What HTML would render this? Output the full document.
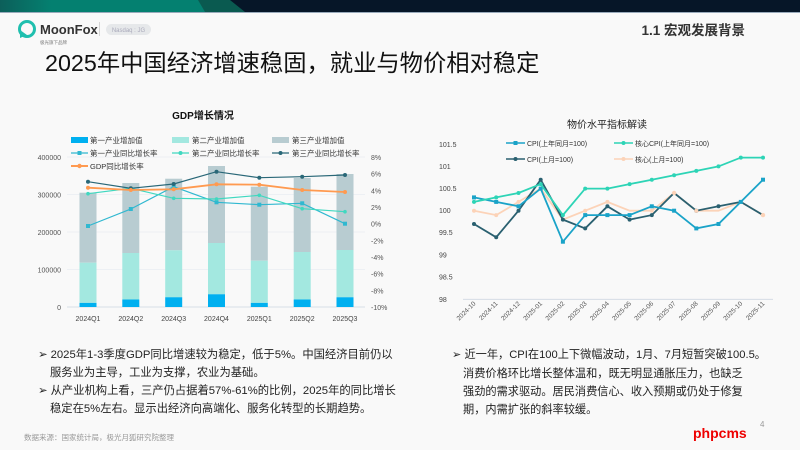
<!DOCTYPE html>
<html><head><meta charset="utf-8"><style>
html,body{margin:0;padding:0;background:#f9f9f9;}
svg{display:block;font-family:"Liberation Sans","Noto Sans CJK SC",sans-serif;}
</style></head><body>
<svg width="800" height="450" viewBox="0 0 800 450" xmlns="http://www.w3.org/2000/svg">
<defs>
<linearGradient id="tg" x1="0" x2="1" y1="0" y2="0">
<stop offset="0" stop-color="#0c5f5a"/><stop offset="0.25" stop-color="#048070"/><stop offset="1" stop-color="#048070"/>
</linearGradient>
</defs>
<rect width="800" height="450" fill="#f9f9f9"/>
<rect width="800" height="12" fill="#061628"/>
<polygon points="0,0 230,0 245,12 0,12" fill="#0a5a50"/>
<polygon points="0,0 198,0 205,12 0,12" fill="url(#tg)"/>
<rect y="12" width="800" height="1" fill="#9ab"/>
<!-- logo -->
<circle cx="27" cy="29" r="7.5" fill="none" stroke="#1fbfae" stroke-width="3"/>
<path d="M20 30 L20 38 L27 35 Z" fill="#1fbfae"/>
<text x="40" y="34" font-size="13" font-weight="bold" fill="#333">MoonFox</text>
<text x="40" y="44" font-size="4.5" fill="#777">极光旗下品牌</text>
<rect x="99" y="22" width="0.8" height="14" fill="#ccc"/>
<rect x="106" y="24" width="45" height="11" rx="5.5" fill="#e6e8ea"/>
<text x="128.5" y="32" font-size="6" fill="#aab" text-anchor="middle">Nasdaq : JG</text>
<text x="745" y="35" font-size="13.5" font-weight="bold" fill="#333" text-anchor="end">1.1  宏观发展背景</text>
<text x="45" y="71" font-size="23.3" fill="#111">2025年中国经济增速稳固，就业与物价相对稳定</text>

<!-- LEFT CHART -->
<text x="203" y="119" font-size="10" font-weight="bold" fill="#111" text-anchor="middle">GDP增长情况</text>
<g font-size="7.5" fill="#333">
<rect x="71" y="137" width="17" height="6" fill="#00b0f0"/><text x="90" y="143">第一产业增加值</text>
<rect x="172" y="137" width="17" height="6" fill="#a3e8e0"/><text x="192" y="143">第二产业增加值</text>
<rect x="272" y="137" width="17" height="6" fill="#b8ccd1"/><text x="292" y="143">第三产业增加值</text>
<line x1="71" y1="153" x2="88" y2="153" stroke="#30b8d0" stroke-width="1.3"/><rect x="77.5" y="151" width="4" height="4" fill="#30b8d0"/><text x="90" y="156">第一产业同比增长率</text>
<line x1="172" y1="153" x2="189" y2="153" stroke="#40d8c0" stroke-width="1.3"/><circle cx="180.5" cy="153" r="2" fill="#40d8c0"/><text x="192" y="156">第二产业同比增长率</text>
<line x1="272" y1="153" x2="289" y2="153" stroke="#2a6878" stroke-width="1.3"/><circle cx="280.5" cy="153" r="2" fill="#2a6878"/><text x="292" y="156">第三产业同比增长率</text>
<line x1="71" y1="166" x2="88" y2="166" stroke="#ff9a50" stroke-width="2"/><circle cx="79.5" cy="166" r="2.2" fill="#ff9a50"/><text x="90" y="169">GDP同比增长率</text>
</g>
<g stroke="#e8ecf2" stroke-width="0.8">
<line x1="67" y1="157" x2="365" y2="157"/><line x1="67" y1="194.5" x2="365" y2="194.5"/><line x1="67" y1="232" x2="365" y2="232"/><line x1="67" y1="269.5" x2="365" y2="269.5"/>
</g>
<line x1="67" y1="307" x2="365" y2="307" stroke="#ccd6e0" stroke-width="0.8"/>
<g font-size="7" fill="#555" text-anchor="end">
<text x="61" y="160">400000</text><text x="61" y="197.5">300000</text><text x="61" y="235">200000</text><text x="61" y="272.5">100000</text><text x="61" y="310">0</text>
</g>
<g font-size="7" fill="#555">
<text x="371" y="160">8%</text><text x="371" y="176.7">6%</text><text x="371" y="193.3">4%</text><text x="371" y="210">2%</text><text x="371" y="226.7">0%</text><text x="371" y="243.3">-2%</text><text x="371" y="260">-4%</text><text x="371" y="276.7">-6%</text><text x="371" y="293.3">-8%</text><text x="371" y="310">-10%</text>
</g>
<g>
<rect x="79.5" y="192.7" width="17" height="70" fill="#b8ccd1"/><rect x="79.5" y="262.7" width="17" height="40.2" fill="#a3e8e0"/><rect x="79.5" y="302.9" width="17" height="4.1" fill="#00b0f0"/>
<rect x="122.3" y="183" width="17" height="70" fill="#b8ccd1"/><rect x="122.3" y="253" width="17" height="46.5" fill="#a3e8e0"/><rect x="122.3" y="299.5" width="17" height="7.5" fill="#00b0f0"/>
<rect x="165.2" y="178.7" width="17" height="71.6" fill="#b8ccd1"/><rect x="165.2" y="250.3" width="17" height="47" fill="#a3e8e0"/><rect x="165.2" y="297.25" width="17" height="9.75" fill="#00b0f0"/>
<rect x="208" y="166" width="17" height="77" fill="#b8ccd1"/><rect x="208" y="243" width="17" height="51.25" fill="#a3e8e0"/><rect x="208" y="294.25" width="17" height="12.75" fill="#00b0f0"/>
<rect x="250.8" y="186.7" width="17" height="74" fill="#b8ccd1"/><rect x="250.8" y="260.7" width="17" height="42.2" fill="#a3e8e0"/><rect x="250.8" y="302.9" width="17" height="4.1" fill="#00b0f0"/>
<rect x="293.7" y="178" width="17" height="74" fill="#b8ccd1"/><rect x="293.7" y="252" width="17" height="47.5" fill="#a3e8e0"/><rect x="293.7" y="299.5" width="17" height="7.5" fill="#00b0f0"/>
<rect x="336.5" y="174" width="17" height="76" fill="#b8ccd1"/><rect x="336.5" y="250" width="17" height="47.25" fill="#a3e8e0"/><rect x="336.5" y="297.25" width="17" height="9.75" fill="#00b0f0"/>
</g>
<g font-size="7" fill="#444" text-anchor="middle">
<text x="88" y="321">2024Q1</text><text x="130.8" y="321">2024Q2</text><text x="173.7" y="321">2024Q3</text><text x="216.5" y="321">2024Q4</text><text x="259.3" y="321">2025Q1</text><text x="302.2" y="321">2025Q2</text><text x="345" y="321">2025Q3</text>
</g>
<polyline fill="none" stroke="#30b8d0" stroke-width="1.2" points="88,226 130.8,209 173.7,186.7 216.5,202.3 259.3,204.7 302.2,203.3 345,223.7"/>
<g fill="#30b8d0"><rect x="86" y="224" width="4" height="4"/><rect x="128.8" y="207" width="4" height="4"/><rect x="171.7" y="184.7" width="4" height="4"/><rect x="214.5" y="200.3" width="4" height="4"/><rect x="257.3" y="202.7" width="4" height="4"/><rect x="300.2" y="201.3" width="4" height="4"/><rect x="343" y="221.7" width="4" height="4"/></g>
<polyline fill="none" stroke="#40d8c0" stroke-width="1.2" points="88,193.7 130.8,188.3 173.7,198.3 216.5,199 259.3,195.3 302.2,208.7 345,211.7"/>
<g fill="#40d8c0"><circle cx="88" cy="193.7" r="1.8"/><circle cx="130.8" cy="188.3" r="1.8"/><circle cx="173.7" cy="198.3" r="1.8"/><circle cx="216.5" cy="199" r="1.8"/><circle cx="259.3" cy="195.3" r="1.8"/><circle cx="302.2" cy="208.7" r="1.8"/><circle cx="345" cy="211.7" r="1.8"/></g>
<polyline fill="none" stroke="#2a6878" stroke-width="1.2" points="88,181.7 130.8,188.3 173.7,184 216.5,171.7 259.3,177.7 302.2,176.7 345,175"/>
<g fill="#2a6878"><circle cx="88" cy="181.7" r="2"/><circle cx="130.8" cy="188.3" r="2"/><circle cx="173.7" cy="184" r="2"/><circle cx="216.5" cy="171.7" r="2"/><circle cx="259.3" cy="177.7" r="2"/><circle cx="302.2" cy="176.7" r="2"/><circle cx="345" cy="175" r="2"/></g>
<polyline fill="none" stroke="#ff9a50" stroke-width="1.8" points="88,187.7 130.8,190 173.7,189.3 216.5,184.3 259.3,184.7 302.2,190 345,192"/>
<g fill="#ff9a50"><circle cx="88" cy="187.7" r="2"/><circle cx="130.8" cy="190" r="2"/><circle cx="173.7" cy="189.3" r="2"/><circle cx="216.5" cy="184.3" r="2"/><circle cx="259.3" cy="184.7" r="2"/><circle cx="302.2" cy="190" r="2"/><circle cx="345" cy="192" r="2"/></g>

<!-- RIGHT CHART -->
<text x="607" y="128" font-size="10" fill="#222" text-anchor="middle">物价水平指标解读</text>
<g font-size="7" fill="#333">
<line x1="506" y1="143" x2="525" y2="143" stroke="#1aa3c8" stroke-width="1.5"/><rect x="513.5" y="141" width="4" height="4" fill="#1aa3c8"/><text x="527" y="146">CPI(上年同月=100)</text>
<line x1="614" y1="143" x2="633" y2="143" stroke="#2dd4b6" stroke-width="1.5"/><circle cx="623.5" cy="143" r="2" fill="#2dd4b6"/><text x="635" y="146">核心CPI(上年同月=100)</text>
<line x1="506" y1="159" x2="525" y2="159" stroke="#2a6070" stroke-width="1.5"/><circle cx="515.5" cy="159" r="2" fill="#2a6070"/><text x="527" y="162">CPI(上月=100)</text>
<line x1="614" y1="159" x2="633" y2="159" stroke="#fcd3b8" stroke-width="1.5"/><circle cx="623.5" cy="159" r="2" fill="#fcd3b8"/><text x="635" y="162">核心(上月=100)</text>
</g>
<g font-size="7" fill="#444">
<text x="439" y="147">101.5</text><text x="439" y="169">101</text><text x="439" y="191">100.5</text><text x="439" y="213">100</text><text x="439" y="235">99.5</text><text x="439" y="257.5">99</text><text x="439" y="279.5">98.5</text><text x="439" y="302">98</text>
</g>
<line x1="463" y1="299.3" x2="773" y2="299.3" stroke="#cfd8e2" stroke-width="0.8"/>
<g font-size="6.5" fill="#555" text-anchor="end">
<text transform="translate(476,304) rotate(-45)">2024-10</text>
<text transform="translate(498.2,304) rotate(-45)">2024-11</text>
<text transform="translate(520.5,304) rotate(-45)">2024-12</text>
<text transform="translate(542.7,304) rotate(-45)">2025-01</text>
<text transform="translate(564.9,304) rotate(-45)">2025-02</text>
<text transform="translate(587.2,304) rotate(-45)">2025-03</text>
<text transform="translate(609.4,304) rotate(-45)">2025-04</text>
<text transform="translate(631.6,304) rotate(-45)">2025-05</text>
<text transform="translate(653.8,304) rotate(-45)">2025-06</text>
<text transform="translate(676.1,304) rotate(-45)">2025-07</text>
<text transform="translate(698.3,304) rotate(-45)">2025-08</text>
<text transform="translate(720.5,304) rotate(-45)">2025-09</text>
<text transform="translate(742.8,304) rotate(-45)">2025-10</text>
<text transform="translate(765,304) rotate(-45)">2025-11</text>
</g>
<polyline fill="none" stroke="#fcd3b8" stroke-width="1.8" points="474,210.7 496.2,215.1 518.5,201.9 540.7,188.6 562.9,219.6 585.2,210.7 607.4,201.9 629.6,210.7 651.8,210.7 674.1,193 696.3,210.7 718.5,210.7 740.8,201.9 763,215.1"/>
<polyline fill="none" stroke="#2a6070" stroke-width="1.8" points="474,224 496.2,237.3 518.5,210.7 540.7,179.7 562.9,219.6 585.2,228.4 607.4,206.3 629.6,219.6 651.8,215.1 674.1,193 696.3,210.7 718.5,206.3 740.8,201.9 763,215.1"/>
<g fill="#2a6070"><circle cx="474" cy="224" r="2"/><circle cx="496.2" cy="237.3" r="2"/><circle cx="518.5" cy="210.7" r="2"/><circle cx="540.7" cy="179.7" r="2"/><circle cx="562.9" cy="219.6" r="2"/><circle cx="585.2" cy="228.4" r="2"/><circle cx="607.4" cy="206.3" r="2"/><circle cx="629.6" cy="219.6" r="2"/><circle cx="651.8" cy="215.1" r="2"/><circle cx="696.3" cy="210.7" r="2"/><circle cx="718.5" cy="206.3" r="2"/></g>
<g fill="#fcd3b8"><circle cx="474" cy="210.7" r="2"/><circle cx="496.2" cy="215.1" r="2"/><circle cx="518.5" cy="201.9" r="2"/><circle cx="540.7" cy="188.6" r="2"/><circle cx="585.2" cy="210.7" r="2"/><circle cx="607.4" cy="201.9" r="2"/><circle cx="651.8" cy="210.7" r="2"/><circle cx="674.1" cy="193" r="2.2"/><circle cx="696.3" cy="210.7" r="2"/><circle cx="740.8" cy="201.9" r="2"/><circle cx="763" cy="215.1" r="2.2"/></g>
<polyline fill="none" stroke="#1aa3c8" stroke-width="1.8" points="474,197.4 496.2,201.9 518.5,206.3 540.7,188.6 562.9,241.7 585.2,215.1 607.4,215.1 629.6,215.1 651.8,206.3 674.1,210.7 696.3,228.4 718.5,224 740.8,201.9 763,179.7"/>
<g fill="#1aa3c8"><rect x="472" y="195.4" width="4" height="4"/><rect x="494.2" y="199.9" width="4" height="4"/><rect x="516.5" y="204.3" width="4" height="4"/><rect x="538.7" y="186.6" width="4" height="4"/><rect x="560.9" y="239.7" width="4" height="4"/><rect x="583.2" y="213.1" width="4" height="4"/><rect x="605.4" y="213.1" width="4" height="4"/><rect x="627.6" y="213.1" width="4" height="4"/><rect x="649.8" y="204.3" width="4" height="4"/><rect x="672.1" y="208.7" width="4" height="4"/><rect x="694.3" y="226.4" width="4" height="4"/><rect x="716.5" y="222" width="4" height="4"/><rect x="738.8" y="199.9" width="4" height="4"/><rect x="761" y="177.7" width="4" height="4"/></g>
<polyline fill="none" stroke="#2dd4b6" stroke-width="1.8" points="474,201.9 496.2,197.4 518.5,193 540.7,184.1 562.9,215.1 585.2,188.6 607.4,188.6 629.6,184.1 651.8,179.7 674.1,175.3 696.3,170.9 718.5,166.4 740.8,157.6 763,157.6"/>
<g fill="#2dd4b6"><circle cx="474" cy="201.9" r="2"/><circle cx="496.2" cy="197.4" r="2"/><circle cx="518.5" cy="193" r="2"/><circle cx="540.7" cy="184.1" r="2"/><circle cx="562.9" cy="215.1" r="2"/><circle cx="585.2" cy="188.6" r="2"/><circle cx="607.4" cy="188.6" r="2"/><circle cx="629.6" cy="184.1" r="2"/><circle cx="651.8" cy="179.7" r="2"/><circle cx="674.1" cy="175.3" r="2"/><circle cx="696.3" cy="170.9" r="2"/><circle cx="718.5" cy="166.4" r="2"/><circle cx="740.8" cy="157.6" r="2"/><circle cx="763" cy="157.6" r="2"/></g>

<!-- bottom text -->
<g font-size="11.3" fill="#222">
<text x="38" y="358">➢ 2025年1-3季度GDP同比增速较为稳定，低于5%。中国经济目前仍以</text>
<text x="50" y="376">服务业为主导，工业为支撑，农业为基础。</text>
<text x="38" y="394">➢ 从产业机构上看，三产仍占据着57%-61%的比例，2025年的同比增长</text>
<text x="50" y="412">稳定在5%左右。显示出经济向高端化、服务化转型的长期趋势。</text>
</g>
<g font-size="11.2" fill="#222">
<text x="452" y="358">➢ 近一年，CPI在100上下微幅波动，1月、7月短暂突破100.5。</text>
<text x="463" y="377">消费价格环比增长整体温和，既无明显通胀压力，也缺乏</text>
<text x="463" y="395">强劲的需求驱动。居民消费信心、收入预期或仍处于修复</text>
<text x="463" y="413">期，内需扩张的斜率较缓。</text>
</g>
<text x="24" y="440" font-size="7.5" fill="#999">数据来源：国家统计局，极光月狐研究院整理</text>
<text x="760" y="427" font-size="8" fill="#999">4</text>
<text x="693" y="438" font-size="14" font-weight="bold" fill="#ee0000">phpcms</text>
</svg>
</body></html>
